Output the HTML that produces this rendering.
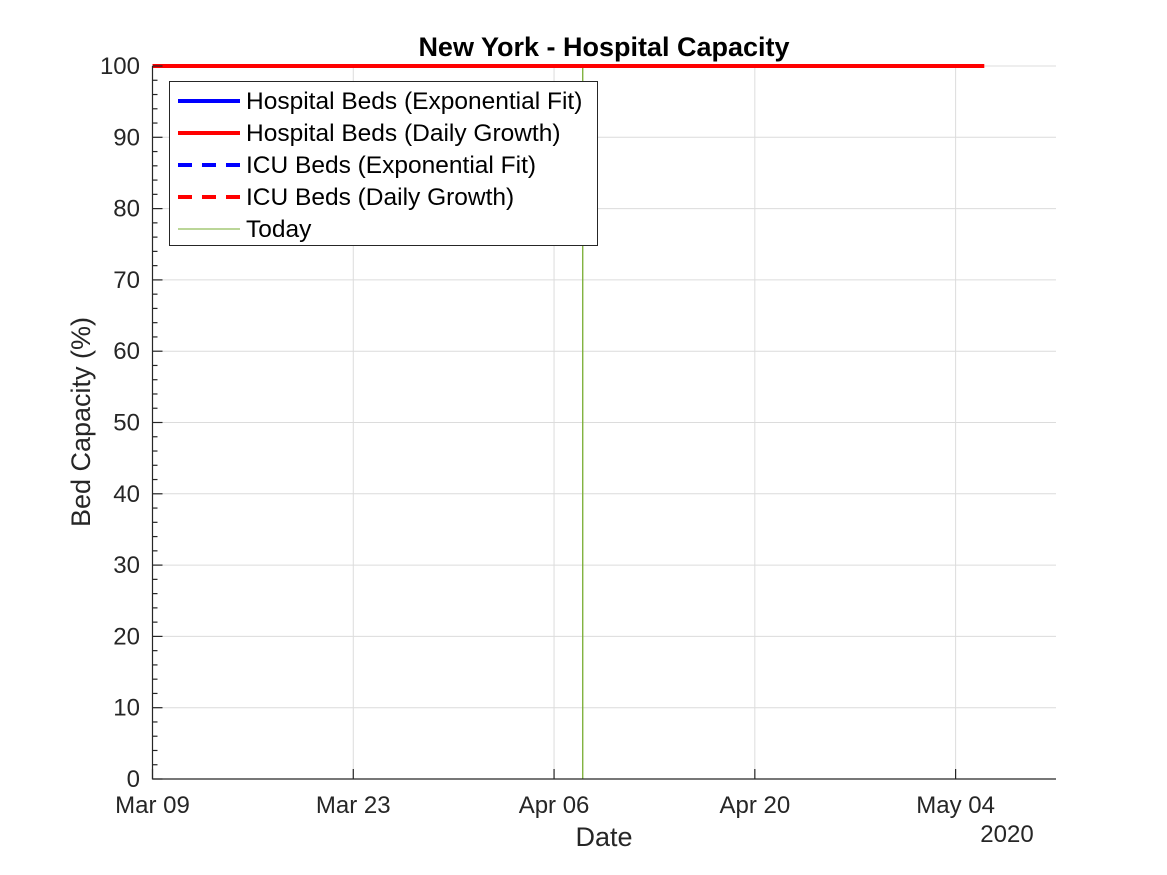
<!DOCTYPE html>
<html><head><meta charset="utf-8"><style>
html,body{margin:0;padding:0;background:#fff;}
svg{display:block;font-family:"Liberation Sans",Arial,sans-serif;}
</style></head><body>
<svg id="chart" width="1167" height="875" viewBox="0 0 1167 875" xmlns="http://www.w3.org/2000/svg"></svg>
<script>
// data
const xTickDays = [0, 14, 28, 42, 56];
const xTickLabels = ["Mar 09", "Mar 23", "Apr 06", "Apr 20", "May 04"];
const yTicks = [0, 10, 20, 30, 40, 50, 60, 70, 80, 90, 100];
const hospitalDailyDays = [0, 58];
const hospitalDailyValues = [100, 100];
const todayDay = 30;

const NS = "http://www.w3.org/2000/svg";
const svg = document.getElementById("chart");
const X0 = 152.5, X1 = 1056, DMIN = 0, DMAX = 63;
const Y0 = 779, Y1 = 66, VMIN = 0, VMAX = 100;
function xs(d){ return X0 + (d - DMIN) / (DMAX - DMIN) * (X1 - X0); }
function ys(v){ return Y0 - (v - VMIN) / (VMAX - VMIN) * (Y0 - Y1); }
function el(tag, attrs, parent){
  const e = document.createElementNS(NS, tag);
  for (const k in attrs) e.setAttribute(k, attrs[k]);
  (parent || svg).appendChild(e);
  return e;
}
function txt(s, attrs){ const t = el("text", attrs); t.textContent = s; return t; }

// grid
const grid = el("g", {});


xTickDays.forEach(d => { el("line", {x1: xs(d), x2: xs(d), y1: Y1, y2: Y0, stroke: "#dcdcdc", "stroke-width": 1}, grid); });
yTicks.forEach(v => { el("line", {x1: X0, x2: X1, y1: ys(v), y2: ys(v), stroke: "#dcdcdc", "stroke-width": 1}, grid); });

// today line
const today = el("line", {x1: xs(todayDay), x2: xs(todayDay), y1: Y1, y2: Y0, stroke: "#77ac30", "stroke-width": 1.3});



// hospital daily growth line
const pts = hospitalDailyDays.map((d, i) => xs(d) + "," + ys(hospitalDailyValues[i])).join(" ");
const hd = el("polyline", {points: pts, fill: "none", stroke: "#ff0000", "stroke-width": 4});



// axes
const axes = el("g", {stroke: "#262626", "stroke-width": 1.2});


el("line", {x1: X0, x2: X0, y1: Y1, y2: Y0 + 0.5}, axes);
el("line", {x1: X0, x2: X1, y1: Y0, y2: Y0}, axes);
xTickDays.forEach((d, i) => {
  el("line", {x1: xs(d), x2: xs(d), y1: Y0, y2: Y0 - 10}, axes);
  const t = txt(xTickLabels[i], {x: xs(d), y: 813, "text-anchor": "middle", "font-size": 24, fill: "#262626"});
  
  
});
for (let v = 0; v <= 100; v += 2) {
  const major = v % 10 === 0;
  el("line", {x1: X0, x2: X0 + (major ? 10 : 5), y1: ys(v), y2: ys(v)}, axes);
}
yTicks.forEach(v => {
  const t = txt(String(v), {x: 140, y: ys(v) + 8, "text-anchor": "end", "font-size": 24, fill: "#262626"});
  
  
});

// labels
let t = txt("New York - Hospital Capacity", {x: 604, y: 56, "text-anchor": "middle", "font-size": 27, "font-weight": "bold", fill: "#000"});


t = txt("Date", {x: 604, y: 846, "text-anchor": "middle", "font-size": 27, fill: "#262626"});


t = txt("2020", {x: 1007, y: 842, "text-anchor": "middle", "font-size": 24, fill: "#262626"});


t = txt("Bed Capacity (%)", {x: 0, y: 0, "text-anchor": "middle", "font-size": 27, fill: "#262626", transform: "translate(90,422) rotate(-90)"});



// legend
const lg = el("g", {});


el("rect", {x: 169.5, y: 81.5, width: 428, height: 164, fill: "#fff", stroke: "#262626", "stroke-width": 1}, lg);
const entries = [
  ["Hospital Beds (Exponential Fit)", "#0000ff", 4, null],
  ["Hospital Beds (Daily Growth)", "#ff0000", 4, null],
  ["ICU Beds (Exponential Fit)", "#0000ff", 4, "14,10"],
  ["ICU Beds (Daily Growth)", "#ff0000", 4, "14,10"],
  ["Today", "#77ac30", 1, null]
];
entries.forEach((e, i) => {
  const y = 101 + i * 32;
  const g = el("g", {}, lg);
  
  
  const a = {x1: 178, x2: 240, y1: y, y2: y, stroke: e[1], "stroke-width": e[2]};
  if (e[3]) a["stroke-dasharray"] = e[3];
  el("line", a, g);
  const tt = el("text", {x: 246, y: y + 8, "font-size": 24.5, fill: "#000"}, g);
  tt.textContent = e[0];
});
</script>
</body></html>
